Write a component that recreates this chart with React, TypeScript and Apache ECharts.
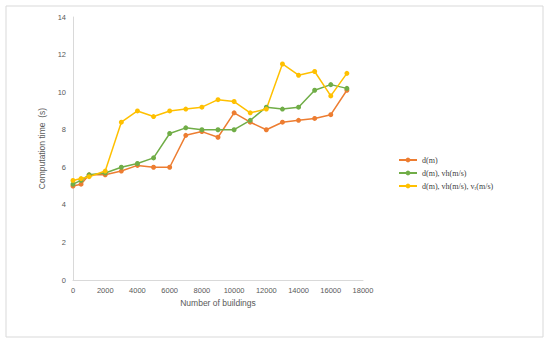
import React, { useEffect, useRef } from "react";
import * as echarts from "echarts";

const buildings = [0, 500, 1000, 2000, 3000, 4000, 5000, 6000, 7000, 8000, 9000, 10000, 11000, 12000, 13000, 14000, 15000, 16000, 17000];
const seriesD = [5.0, 5.1, 5.6, 5.6, 5.8, 6.1, 6.0, 6.0, 7.7, 7.9, 7.6, 8.9, 8.4, 8.0, 8.4, 8.5, 8.6, 8.8, 10.1];
const seriesDVh = [5.1, 5.3, 5.6, 5.7, 6.0, 6.2, 6.5, 7.8, 8.1, 8.0, 8.0, 8.0, 8.5, 9.2, 9.1, 9.2, 10.1, 10.4, 10.2];
const seriesDVhVr = [5.3, 5.4, 5.5, 5.8, 8.4, 9.0, 8.7, 9.0, 9.1, 9.2, 9.6, 9.5, 8.9, 9.1, 11.5, 10.9, 11.1, 9.8, 11.0];
const seriesNames = ["d(m)", "d(m), vh(m/s)", "d(m), vh(m/s), vᵣ(m/s)"];
const colors = ["#ED7D31", "#70AD47", "#FFC000"];

export default function App() {
  const ref = useRef<HTMLDivElement>(null);
  useEffect(() => {
    if (!ref.current) return;
    const chart = echarts.init(ref.current, null, { renderer: "svg" });
    const all = [seriesD, seriesDVh, seriesDVhVr];
    chart.setOption({
      animation: false,
      backgroundColor: "#ffffff",
      graphic: [
        {
          type: "rect",
          shape: { x: 6, y: 6, width: 537, height: 331 },
          style: { fill: "none", stroke: "#d9d9d9", lineWidth: 1 },
          silent: true,
        },
      ],
      grid: { left: 73, top: 17, right: 187, bottom: 65 },
      xAxis: {
        type: "value",
        min: 0,
        max: 18000,
        interval: 2000,
        name: "Number of buildings",
        nameLocation: "middle",
        nameGap: 16,
        nameTextStyle: { color: "#595959", fontSize: 8.5, fontFamily: "Liberation Sans, Arial, sans-serif" },
        axisLine: { lineStyle: { color: "#d9d9d9" } },
        axisTick: { show: false },
        splitLine: { show: false },
        axisLabel: {
          color: "#595959",
          fontSize: 7.5,
          margin: 6,
          fontFamily: "Liberation Sans, Arial, sans-serif",
          formatter: (v: number) => String(v),
        },
      },
      yAxis: {
        type: "value",
        min: 0,
        max: 14,
        interval: 2,
        name: "Computation time  (s)",
        nameLocation: "middle",
        nameGap: 15,
        nameTextStyle: { color: "#595959", fontSize: 8.5, fontFamily: "Liberation Sans, Arial, sans-serif" },
        axisLine: { show: true, lineStyle: { color: "#d9d9d9" } },
        axisTick: { show: false },
        splitLine: { show: false },
        axisLabel: { color: "#595959", fontSize: 7.5, margin: 7, fontFamily: "Liberation Sans, Arial, sans-serif" },
      },
      legend: {
        orient: "vertical",
        left: 393,
        top: 151,
        itemGap: 5,
        itemWidth: 18,
        itemHeight: 6,
        data: seriesNames,
        textStyle: { color: "#404040", fontSize: 8, fontFamily: "Liberation Serif, Times New Roman, serif" },
      },
      series: all.map((vals, i) => ({
        name: seriesNames[i],
        type: "line",
        data: buildings.map((b, j) => [b, vals[j]]),
        symbol: "circle",
        symbolSize: 5,
        lineStyle: { width: 1.5, color: colors[i] },
        itemStyle: { color: colors[i] },
      })),
    });
    return () => chart.dispose();
  }, []);
  return <div ref={ref} style={{ width: 550, height: 345, position: "absolute", left: 0, top: 0 }} />;
}
